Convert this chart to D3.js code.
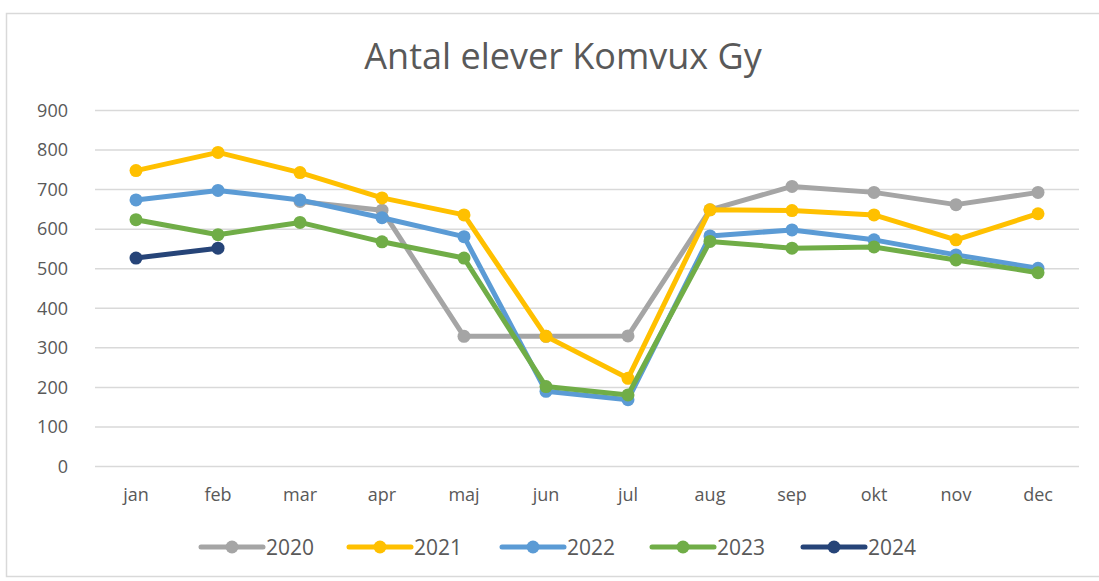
<!DOCTYPE html>
<html>
<head>
<meta charset="utf-8">
<script src="https://cdn.jsdelivr.net/npm/d3@7"></script>
<style>
  body { margin: 0; background: #fff; }
  text { font-family: "Open Sans", sans-serif; fill: #595959; }
</style>
</head>
<body>
<script>
const months = ['jan', 'feb', 'mar', 'apr', 'maj', 'jun', 'jul', 'aug', 'sep', 'okt', 'nov', 'dec'];
const yTicks = [0, 100, 200, 300, 400, 500, 600, 700, 800, 900];
const years = ['2020', '2021', '2022', '2023', '2024'];
const colors = ['#a5a5a5', '#ffc000', '#5b9bd5', '#70ad47', '#264478'];

const v2020 = [null, null, 670, 648, 329, 329, 330, 649, 708, 693, 662, 693];
const v2021 = [748, 794, 743, 679, 636, 329, 223, 649, 647, 636, 573, 639];
const v2022 = [674, 698, 674, 629, 581, 190, 169, 583, 598, 573, 535, 501];
const v2023 = [624, 586, 617, 568, 527, 202, 181, 569, 552, 555, 522, 490];
const v2024 = [527, 552, null, null, null, null, null, null, null, null, null, null];
const series = [v2020, v2021, v2022, v2023, v2024];

const width = 1099, height = 581;
const svg = d3.select(document.body).append('svg')
  .attr('width', width)
  .attr('height', height);

// chart frame
svg.append('rect')
  .attr('x', 6.5).attr('y', 13.5)
  .attr('width', 1110).attr('height', 563)
  .attr('fill', 'none')
  .attr('stroke', '#d9d9d9')
  .attr('stroke-width', 1.5);

svg.append('text')
  .attr('x', 563).attr('y', 69)
  .attr('text-anchor', 'middle')
  .style('font-size', '36px')
  .text('Antal elever Komvux Gy');

const x = d3.scaleBand().domain(months).range([95, 1079]);
const y = d3.scaleLinear().domain([0, 900]).range([466.5, 110.5]);

// gridlines
svg.append('g')
  .selectAll('line')
  .data(yTicks)
  .enter().append('line')
  .attr('x1', 95).attr('x2', 1079)
  .attr('y1', d => y(d)).attr('y2', d => y(d))
  .attr('stroke', '#d9d9d9')
  .attr('stroke-width', 1.5);

const yAxis = svg.append('g')
  .attr('transform', 'translate(68,0)')
  .call(d3.axisLeft(y).tickValues(yTicks).tickSize(0).tickPadding(0));
yAxis.select('.domain').remove();
yAxis.selectAll('text')
  .style('font-size', '18px')
  .style('font-family', '"Open Sans", sans-serif')
  .attr('fill', '#595959');

const xAxis = svg.append('g')
  .attr('transform', 'translate(0,466.5)')
  .call(d3.axisBottom(x).tickSize(0).tickPadding(22));
xAxis.select('.domain').remove();
xAxis.selectAll('text')
  .style('font-size', '18px')
  .style('font-family', '"Open Sans", sans-serif')
  .attr('fill', '#595959');

const cx = (d, i) => x(months[i]) + x.bandwidth() / 2;
const line = d3.line()
  .defined(d => d != null)
  .x(cx)
  .y(d => y(d));

series.forEach((vals, k) => {
  const g = svg.append('g');
  g.append('path')
    .datum(vals)
    .attr('fill', 'none')
    .attr('stroke', colors[k])
    .attr('stroke-width', 5)
    .attr('stroke-linejoin', 'round')
    .attr('stroke-linecap', 'round')
    .attr('d', line);
  g.selectAll('circle')
    .data(vals.map((v, i) => ({ v, i })).filter(d => d.v != null))
    .enter().append('circle')
    .attr('cx', d => cx(null, d.i))
    .attr('cy', d => y(d.v))
    .attr('r', 6.5)
    .attr('fill', colors[k]);
});

// legend
const legendX = [201, 349, 502, 652, 803];
const leg = svg.append('g')
  .selectAll('g')
  .data(years)
  .enter().append('g')
  .attr('transform', (d, i) => `translate(${legendX[i]},547)`);
leg.append('line')
  .attr('x1', 0).attr('x2', 62)
  .attr('stroke', (d, i) => colors[i])
  .attr('stroke-width', 5)
  .attr('stroke-linecap', 'round');
leg.append('circle')
  .attr('cx', 31).attr('r', 6.5)
  .attr('fill', (d, i) => colors[i]);
leg.append('text')
  .attr('x', 65).attr('dy', '0.36em')
  .style('font-size', '21px')
  .text(d => d);
</script>
</body>
</html>
